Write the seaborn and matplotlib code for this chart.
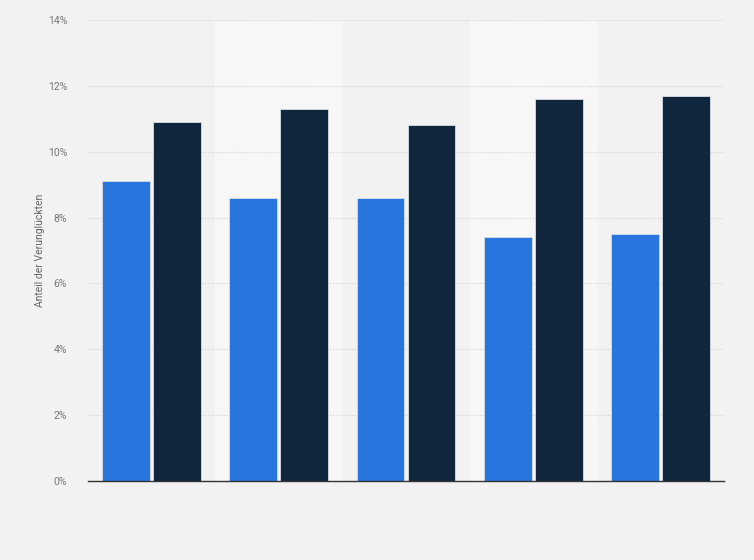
import matplotlib
matplotlib.use("Agg")
import matplotlib.pyplot as plt
import seaborn as sns
import pandas as pd
from matplotlib.ticker import FuncFormatter

# Data (percent)
groups = ["Gruppe 1", "Gruppe 2", "Gruppe 3", "Gruppe 4", "Gruppe 5"]
series_names = ["Serie A", "Serie B"]
series_a = [9.1, 8.6, 8.6, 7.4, 7.5]
series_b = [10.9, 11.3, 10.8, 11.6, 11.7]

df = pd.DataFrame({
    "Gruppe": groups * 2,
    "Serie": [series_names[0]] * len(groups) + [series_names[1]] * len(groups),
    "Anteil": series_a + series_b,
})

sns.set_theme(style="white")
plt.rcParams["font.family"] = ["Roboto", "DejaVu Sans"]

fig = plt.figure(figsize=(7.54, 5.6), dpi=100, facecolor="#f2f2f2")
ax = fig.add_axes([88 / 754, 1 - 481 / 560, 636 / 754, 461 / 560])
ax.set_facecolor("#f2f2f2")

# alternating column bands
for i in range(len(groups)):
    if i % 2 == 1:
        ax.axvspan(i - 0.5, i + 0.5, color="#f7f7f7", zorder=0, lw=0)

sns.barplot(
    data=df, x="Gruppe", y="Anteil", hue="Serie",
    palette=["#2876dd", "#0f263d"], saturation=1, width=0.8, gap=0.06,
    edgecolor="#d8dde5", linewidth=0.6, ax=ax, zorder=3, legend=False,
)

ax.set_xlim(-0.5, len(groups) - 0.5)
ax.set_ylim(0, 14)
ax.set_yticks(range(0, 15, 2))
ax.yaxis.set_major_formatter(FuncFormatter(lambda v, _: f"{v:.0f}%"))
ax.grid(axis="y", color="#cfcfcf", linestyle=(0, (1, 1.5)), linewidth=0.8, zorder=1)
ax.set_axisbelow(True)

ax.set_xticks([])
ax.set_xlabel("")
ax.set_ylabel("Anteil der Verunglückten", fontsize=7.5, color="#666666", labelpad=2)
ax.tick_params(axis="y", length=0, labelsize=7.5, labelcolor="#777777", pad=15)

for side in ["top", "right", "left"]:
    ax.spines[side].set_visible(False)
ax.spines["bottom"].set_color("#333333")
ax.spines["bottom"].set_linewidth(1.0)
ax.spines["bottom"].set_zorder(5)

fig.savefig("out.png", dpi=100, facecolor="#f2f2f2")
